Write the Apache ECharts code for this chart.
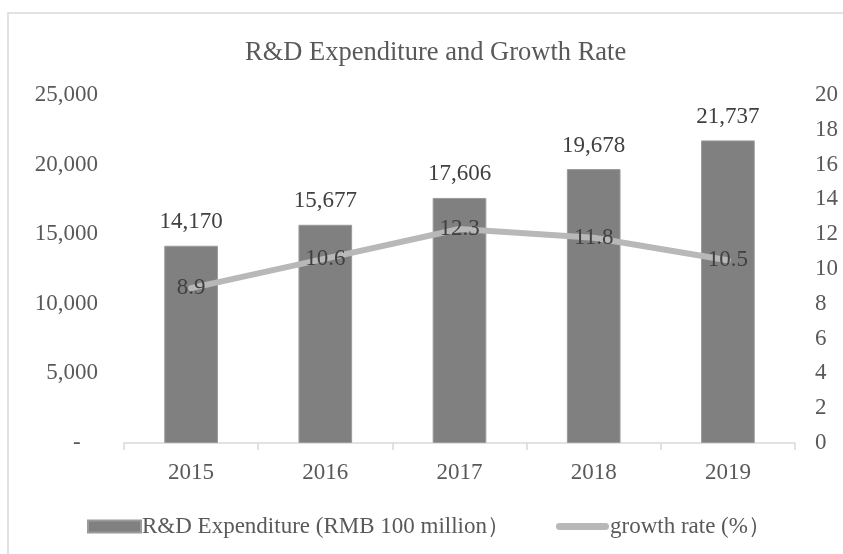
<!DOCTYPE html>
<html>
<head>
<meta charset="utf-8">
<script src="https://cdn.jsdelivr.net/npm/echarts@6/dist/echarts.min.js"></script>
<style>
  html, body { margin: 0; padding: 0; background: #fff; }
  #chart { width: 843px; height: 554px; }
</style>
</head>
<body>
<div id="chart"></div>
<script>
var years = ['2015', '2016', '2017', '2018', '2019']
var expenditure = [14170, 15677, 17606, 19678, 21737]
var growthRate = [8.9, 10.6, 12.3, 11.8, 10.5]

var font = '"Liberation Serif", "Times New Roman", serif'
var textColor = '#595959'

var myChart = echarts.init(document.getElementById('chart'))
var option = {
  backgroundColor: '#fff',
  textStyle: { fontFamily: font },
  title: {
    text: 'R&D Expenditure and Growth Rate',
    left: 240,
    top: 35,
    textStyle: { fontFamily: font, fontSize: 26.5, fontWeight: 'normal', color: textColor }
  },
  graphic: [{
    type: 'rect',
    shape: { x: 8, y: 13, width: 900, height: 600 },
    style: { fill: 'none', stroke: '#d9d9d9', lineWidth: 1.5 },
    silent: true
  }],
  legend: {
    left: 82,
    top: 510,
    itemWidth: 53,
    itemHeight: 12,
    itemGap: 46,
    textStyle: { fontFamily: font, fontSize: 23, color: textColor, padding: [0, 0, 0, -4] },
    data: [
      { name: 'R&D Expenditure (RMB 100 million）', icon: 'rect' },
      { name: 'growth rate (%）', icon: 'path://M3.5,0H50.5A3.5,3.5,0,0,1,50.5,7H3.5A3.5,3.5,0,0,1,3.5,0Z' }
    ]
  },
  grid: { left: 124, right: 48, top: 95, bottom: 111 },
  xAxis: {
    type: 'category',
    data: years,
    axisLine: { lineStyle: { color: '#d9d9d9', width: 1.5 } },
    axisTick: { show: true, length: 7, lineStyle: { color: '#d9d9d9', width: 1.5 } },
    axisLabel: { fontFamily: font, fontSize: 23, color: textColor, margin: 18 }
  },
  yAxis: [
    {
      type: 'value',
      min: 0,
      max: 25000,
      interval: 5000,
      splitLine: { show: false },
      axisLine: { show: false },
      axisTick: { show: false },
      axisLabel: {
        fontFamily: font,
        fontSize: 23,
        color: textColor,
        margin: 26,
        formatter: function (v) {
          return v === 0 ? '-   ' : v.toLocaleString('en-US')
        }
      }
    },
    {
      type: 'value',
      min: 0,
      max: 20,
      interval: 2,
      position: 'right',
      splitLine: { show: false },
      axisLine: { show: false },
      axisTick: { show: false },
      axisLabel: { fontFamily: font, fontSize: 23, color: textColor, margin: 20 }
    }
  ],
  series: [
    {
      name: 'R&D Expenditure (RMB 100 million）',
      type: 'bar',
      data: expenditure,
      barWidth: '40%',
      itemStyle: { color: '#808080', borderColor: '#9a9a9a', borderWidth: 1 },
      label: {
        show: true,
        position: 'top',
        distance: 12,
        fontFamily: font,
        fontSize: 23,
        color: '#404040',
        formatter: function (p) { return p.value.toLocaleString('en-US') }
      }
    },
    {
      name: 'growth rate (%）',
      type: 'line',
      yAxisIndex: 1,
      data: growthRate,
      symbol: 'circle',
      symbolSize: 1,
      showSymbol: true,
      lineStyle: { color: '#b8b8b8', width: 6, cap: 'round', join: 'round' },
      itemStyle: { color: '#b8b8b8' },
      label: {
        show: true,
        position: 'inside',
        fontFamily: font,
        fontSize: 23,
        color: '#404040',
        formatter: function (p) { return p.value.toFixed(1) }
      }
    }
  ]
}
myChart.setOption(option)
</script>
</body>
</html>
